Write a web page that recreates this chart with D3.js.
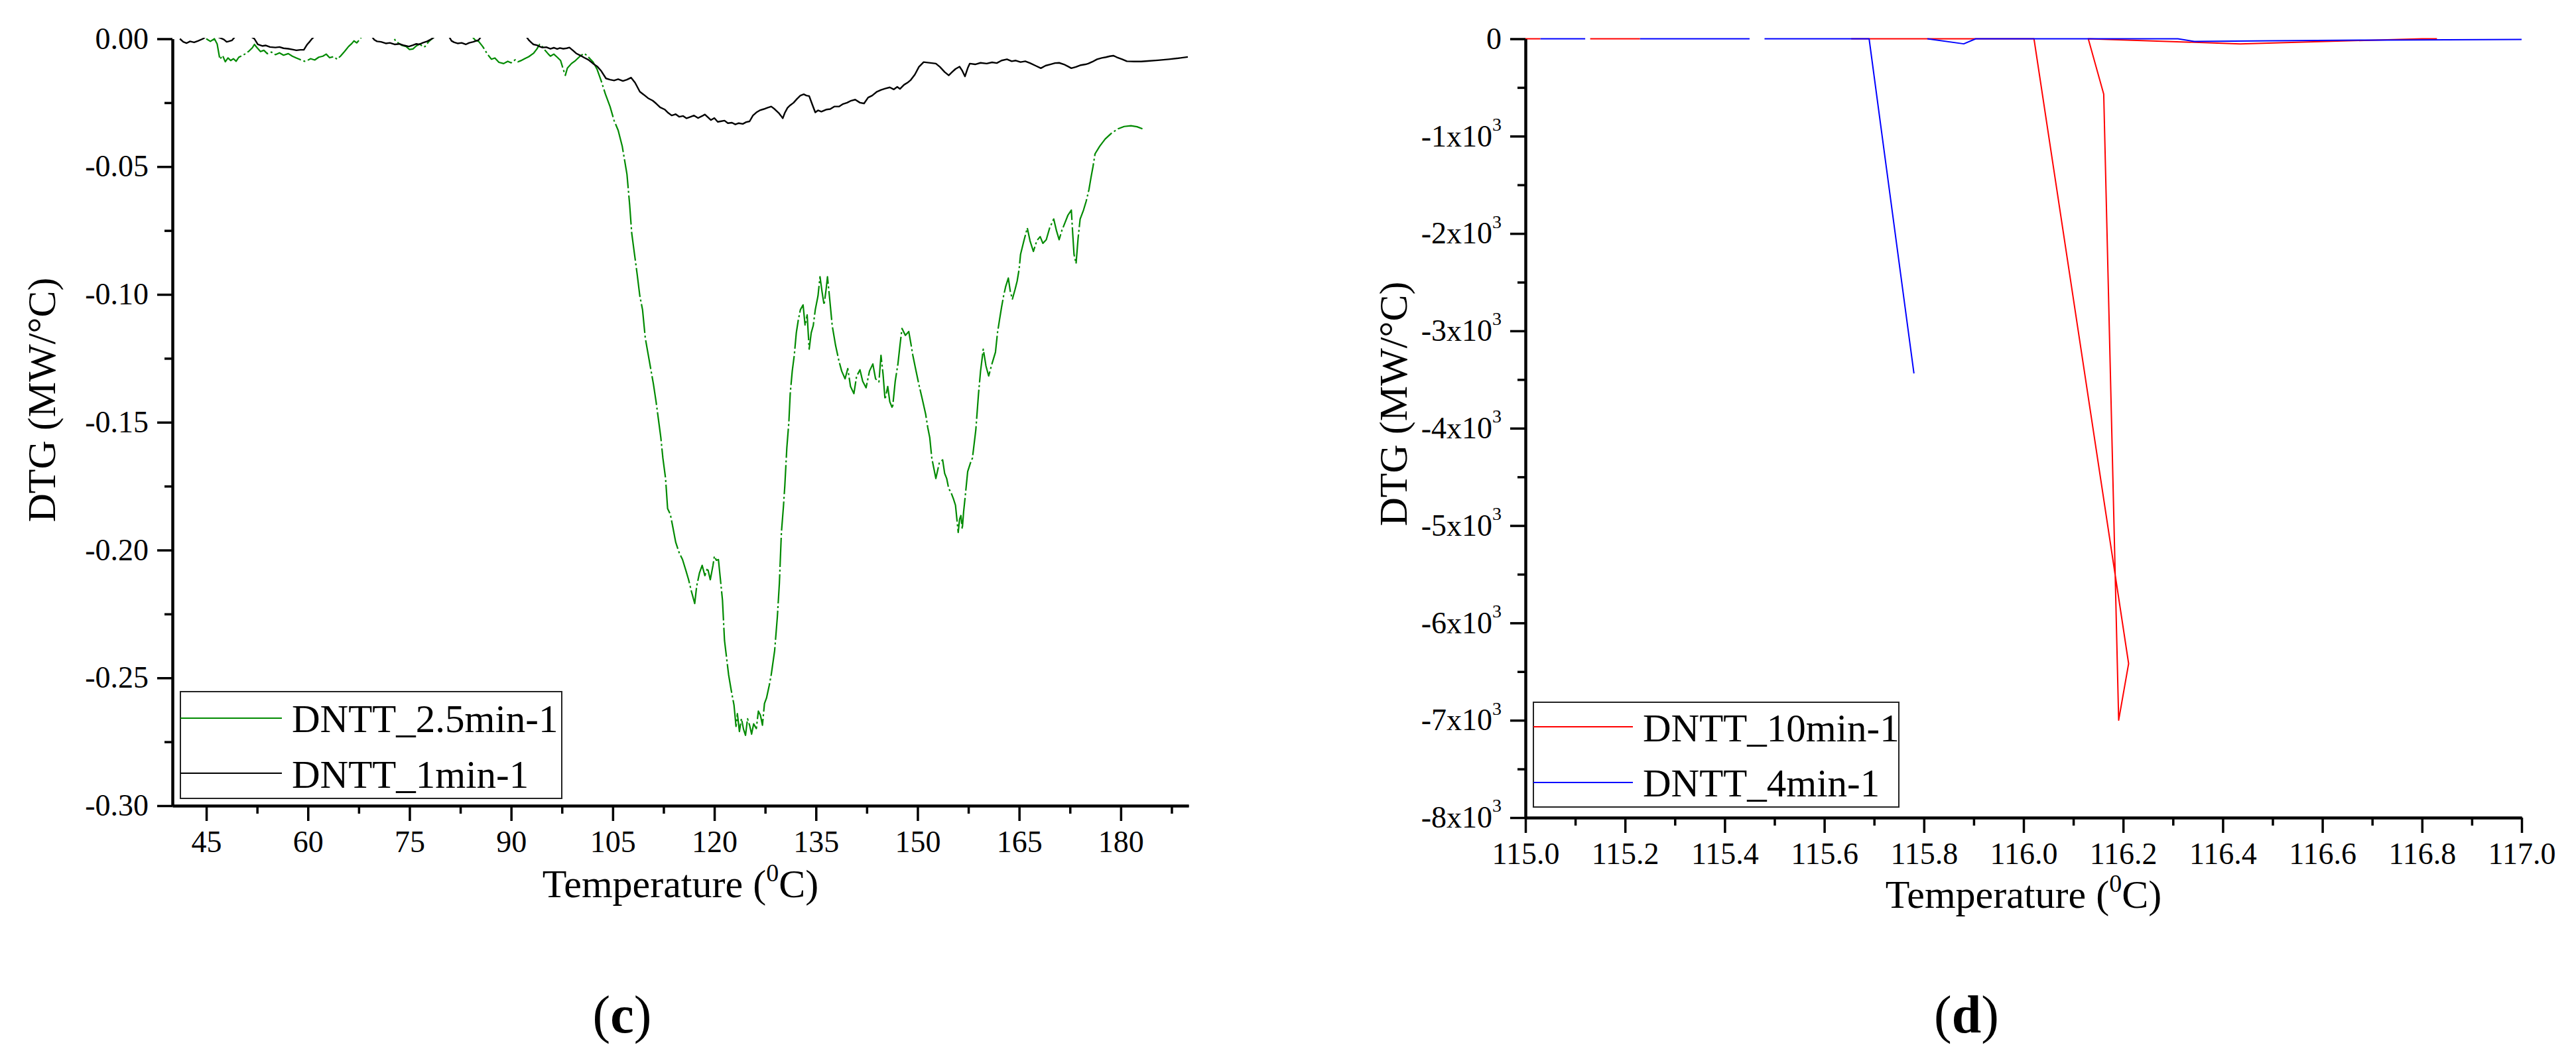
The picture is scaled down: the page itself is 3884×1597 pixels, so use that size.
<!DOCTYPE html>
<html>
<head>
<meta charset="utf-8">
<script src="https://cdn.jsdelivr.net/npm/d3@7"></script>
<style>
  html,body{margin:0;padding:0;background:#fff;}
  svg{display:block;}
</style>
</head>
<body>
<script>
// ---------------- DATA ----------------
// Panel (c): Temperature (°C) vs DTG
const cXTicks = [45, 60, 75, 90, 105, 120, 135, 150, 165, 180];
const cXMinor = [52.5, 67.5, 82.5, 97.5, 112.5, 127.5, 142.5, 157.5, 172.5, 187.5];
const cYTicks = [0, -0.05, -0.10, -0.15, -0.20, -0.25, -0.30];
const cYMinor = [-0.025, -0.075, -0.125, -0.175, -0.225, -0.275];
const cSeriesNames = ["DNTT_2.5min-1", "DNTT_1min-1"];

// DNTT_2.5min-1 (green) [T, DTG]
const dntt25 = [
[45.0,0],[45.6,-0.001],[46.2,0],[46.6,-0.002],[47.0,-0.008],[47.4,-0.0065],[47.8,-0.009],[48.2,-0.0075],[48.6,-0.0085],[49.0,-0.0078],
[49.4,-0.0088],[49.8,-0.0072],[50.3,-0.0066],[50.8,-0.0058],[51.3,-0.0048],[51.8,-0.0035],[52.1,-0.0022],[52.5,-0.0035],[53.0,-0.005],[53.5,-0.0045],
[54.0,-0.0058],[54.6,-0.0052],[55.2,-0.0062],[55.8,-0.0055],[56.4,-0.0064],[57.1,-0.0058],[57.7,-0.0068],[58.3,-0.0075],[58.9,-0.0082],[59.5,-0.0088],
[59.9,-0.0085],[60.4,-0.0078],[61.0,-0.0083],[61.6,-0.0072],[62.2,-0.0068],[62.7,-0.006],[63.2,-0.0074],[63.8,-0.007],[64.3,-0.008],[64.8,-0.0068],
[65.4,-0.005],[66.0,-0.003],[66.5,-0.0018],[66.8,-0.0008],[67.2,-0.0016],[67.6,-0.0004],[68.0,0.001],[72.5,0.001],[73.0,-0.001],[73.8,-0.0025],
[74.5,-0.003],[75.0,-0.0042],[75.5,-0.004],[76.0,-0.0028],[76.5,-0.002],[77.0,-0.0032],[77.3,-0.003],[77.8,-0.0012],[78.3,0],[78.8,0.001],
[84.2,0.001],[84.7,-0.0005],[85.2,-0.001],[85.8,-0.003],[86.5,-0.006],[87.1,-0.008],[87.6,-0.0075],[88.2,-0.0092],[88.9,-0.0097],[89.5,-0.0088],
[90.0,-0.0094],[90.6,-0.0082],[91.0,-0.009],[91.4,-0.0086],[92.0,-0.0078],[92.6,-0.007],[93.3,-0.0057],[93.8,-0.004],[94.2,-0.0022],[94.6,-0.003],
[95.0,-0.0045],[95.5,-0.006],[95.8,-0.0068],[96.3,-0.006],[96.8,-0.0072],[97.3,-0.0085],[97.7,-0.012],[98.0,-0.0143],[98.3,-0.0115],[98.9,-0.0097],
[99.5,-0.0085],[100.1,-0.007],[100.5,-0.0062],[100.8,-0.0057],[101.3,-0.0068],[101.7,-0.008],[102.1,-0.0091],[102.7,-0.012],[103.3,-0.0165],[103.9,-0.0215],
[104.6,-0.0265],[105.2,-0.032],[105.8,-0.0358],[106.4,-0.042],[107.1,-0.053],[107.5,-0.065],[107.8,-0.076],[108.2,-0.084],[108.6,-0.092],[109.0,-0.1006],
[109.4,-0.106],[109.8,-0.117],[110.2,-0.123],[110.6,-0.129],[111.0,-0.135],[111.4,-0.142],[111.8,-0.15],[112.1,-0.156],[112.4,-0.164],[112.8,-0.172],
[113.1,-0.1838],[113.5,-0.186],[113.8,-0.19],[114.3,-0.197],[114.8,-0.201],[115.3,-0.2037],[115.8,-0.208],[116.2,-0.2116],[116.6,-0.216],[117.1,-0.2209],
[117.4,-0.214],[117.8,-0.209],[118.2,-0.206],[118.6,-0.21],[119.0,-0.207],[119.4,-0.2116],[119.8,-0.206],[120.0,-0.2024],[120.3,-0.204],[120.6,-0.2037],
[120.9,-0.2116],[121.2,-0.2196],[121.5,-0.2354],[121.8,-0.242],[122.1,-0.2487],[122.5,-0.255],[122.9,-0.2606],[123.2,-0.269],[123.4,-0.264],[123.7,-0.271],
[124.0,-0.2659],[124.3,-0.27],[124.6,-0.2725],[124.9,-0.266],[125.2,-0.2685],[125.5,-0.272],[125.8,-0.268],[126.2,-0.2698],[126.5,-0.263],[126.8,-0.2646],
[127.1,-0.2685],[127.4,-0.26],[127.7,-0.2579],[128.1,-0.253],[128.4,-0.2487],[128.9,-0.2394],[129.3,-0.2262],[129.6,-0.213],[129.9,-0.1931],[130.2,-0.183],
[130.4,-0.175],[130.7,-0.16],[131.0,-0.15],[131.2,-0.1388],[131.5,-0.13],[131.8,-0.1238],[132.1,-0.115],[132.4,-0.1099],[132.7,-0.106],[133.1,-0.1041],
[133.4,-0.1122],[133.7,-0.108],[134.0,-0.1214],[134.3,-0.115],[134.6,-0.1122],[134.9,-0.106],[135.3,-0.1006],[135.6,-0.0931],[135.9,-0.099],[136.2,-0.1041],
[136.5,-0.098],[136.7,-0.0931],[137.0,-0.101],[137.4,-0.1122],[137.9,-0.12],[138.4,-0.1261],[138.8,-0.13],[139.3,-0.133],[139.7,-0.129],[140.1,-0.136],
[140.6,-0.1388],[141.0,-0.132],[141.5,-0.1295],[141.9,-0.134],[142.4,-0.1365],[142.9,-0.13],[143.4,-0.1272],[143.8,-0.133],[144.3,-0.1342],[144.6,-0.1238],
[144.9,-0.131],[145.2,-0.1411],[145.6,-0.136],[145.9,-0.142],[146.3,-0.1446],[146.7,-0.134],[147.1,-0.1272],[147.4,-0.12],[147.7,-0.1133],[148.2,-0.116],
[148.7,-0.1145],[149.0,-0.119],[149.3,-0.1238],[149.7,-0.129],[150.2,-0.1353],[150.7,-0.141],[151.2,-0.1469],[151.5,-0.152],[151.8,-0.156],[152.1,-0.164],
[152.4,-0.168],[152.7,-0.172],[153.2,-0.166],[153.7,-0.1647],[154.0,-0.17],[154.3,-0.172],[154.6,-0.176],[154.9,-0.1772],[155.3,-0.18],[155.6,-0.1825],
[156.0,-0.1931],[156.2,-0.188],[156.4,-0.1865],[156.6,-0.1918],[156.8,-0.185],[157.0,-0.1799],[157.4,-0.1693],[157.8,-0.166],[158.1,-0.164],[158.6,-0.153],
[159.0,-0.1388],[159.3,-0.13],[159.7,-0.1214],[160.1,-0.128],[160.5,-0.1319],[161.0,-0.127],[161.5,-0.1226],[161.8,-0.115],[162.1,-0.1099],[162.4,-0.105],
[162.7,-0.1006],[163.0,-0.097],[163.4,-0.0936],[163.7,-0.099],[164.0,-0.1018],[164.4,-0.098],[164.7,-0.0948],[165.0,-0.09],[165.2,-0.0844],[165.7,-0.079],
[166.2,-0.074],[166.6,-0.079],[167.1,-0.0832],[167.6,-0.079],[168.1,-0.0774],[168.5,-0.08],[169.0,-0.0786],[169.5,-0.074],[170.1,-0.0705],[170.5,-0.075],
[170.9,-0.0786],[171.3,-0.075],[171.8,-0.0717],[172.2,-0.069],[172.7,-0.067],[172.9,-0.076],[173.1,-0.0844],[173.4,-0.0879],[173.7,-0.078],[174.0,-0.0705],
[174.5,-0.067],[174.9,-0.0635],[175.3,-0.059],[175.6,-0.0543],[175.9,-0.05],[176.2,-0.045],[176.9,-0.042],[177.7,-0.0392],[178.6,-0.037],[179.6,-0.0352],
[180.5,-0.0343],[181.5,-0.034],[182.4,-0.0344],[183.2,-0.0352]
];

// DNTT_1min-1 (black) [T, DTG]
const dntt1 = [
[41.1,0],[41.6,-0.0012],[42.1,-0.0017],[42.6,-0.001],[43.2,-0.0014],[43.8,-0.0008],[44.5,0],[45.0,0.001],[46.5,0.001],[47.6,-0.0003],
[48.0,-0.0012],[48.3,-0.001],[48.8,-0.0006],[49.3,0.001],[51.5,0.001],[52.1,0],[52.6,-0.0022],[53.3,-0.0028],[53.8,-0.0026],[54.4,-0.0032],
[55.2,-0.0034],[55.8,-0.0032],[56.4,-0.0037],[57.1,-0.0039],[57.7,-0.0042],[58.3,-0.0045],[58.9,-0.0043],[59.4,-0.0043],[59.7,-0.003],[59.9,-0.0022],
[60.3,-0.001],[60.6,0],[61.0,0.001],[69.4,0.001],[69.8,-0.0004],[70.2,-0.001],[70.8,-0.0012],[71.5,-0.0018],[72.1,-0.0016],[72.8,-0.0022],
[73.5,-0.002],[74.2,-0.0026],[74.9,-0.003],[75.5,-0.0025],[76.0,-0.002],[76.4,-0.0022],[77.0,-0.0015],[77.6,-0.001],[78.3,0],[78.8,0.001],
[80.8,0.001],[81.2,-0.0008],[81.6,-0.0014],[82.1,-0.0018],[82.7,-0.0016],[83.3,-0.0022],[83.8,-0.0016],[84.4,-0.0012],[85.2,-0.0005],[85.6,0.001],
[92.2,0.001],[92.6,-0.0005],[93.0,-0.0015],[93.3,-0.0022],[93.8,-0.0025],[94.2,-0.003],[94.6,-0.0034],[95.2,-0.0033],[95.8,-0.0039],[96.3,-0.0035],
[96.8,-0.004],[97.2,-0.0036],[97.7,-0.0039],[98.2,-0.0037],[98.6,-0.0034],[99.1,-0.0045],[99.6,-0.0057],[100.2,-0.0065],[100.8,-0.0074],[101.4,-0.0082],
[102.1,-0.0097],[102.7,-0.0108],[103.3,-0.0126],[104.0,-0.0155],[104.6,-0.016],[105.2,-0.0163],[105.8,-0.0158],[106.5,-0.0165],[107.1,-0.016],[107.7,-0.0152],
[108.3,-0.0172],[109.0,-0.0207],[109.6,-0.0219],[110.2,-0.0232],[110.9,-0.0242],[111.4,-0.0253],[112.0,-0.0268],[112.7,-0.0277],[113.2,-0.029],[113.7,-0.03],
[114.3,-0.0295],[114.8,-0.0305],[115.4,-0.0302],[115.9,-0.0311],[116.5,-0.0305],[117.0,-0.03],[117.6,-0.031],[118.2,-0.0302],[118.6,-0.0296],[119.0,-0.0306],
[119.5,-0.0318],[120.0,-0.031],[120.5,-0.0325],[120.9,-0.0323],[121.5,-0.032],[122.0,-0.033],[122.6,-0.0328],[123.1,-0.0335],[123.6,-0.033],[124.2,-0.0333],
[124.7,-0.0326],[125.2,-0.0323],[125.7,-0.03],[126.2,-0.0288],[126.7,-0.028],[127.3,-0.0275],[127.8,-0.027],[128.4,-0.0265],[128.9,-0.0275],[129.5,-0.029],
[129.8,-0.03],[130.1,-0.0311],[130.4,-0.029],[130.8,-0.027],[131.2,-0.026],[131.7,-0.025],[132.2,-0.0235],[132.7,-0.0222],[133.2,-0.0217],[133.6,-0.0222],
[134.0,-0.0224],[134.5,-0.026],[134.9,-0.0288],[135.3,-0.028],[135.8,-0.0285],[136.5,-0.0277],[137.1,-0.0275],[137.7,-0.0265],[138.4,-0.0265],[139.0,-0.0255],
[139.6,-0.025],[140.2,-0.0242],[140.8,-0.0238],[141.5,-0.025],[142.1,-0.0253],[142.7,-0.023],[143.3,-0.0222],[144.0,-0.0207],[144.6,-0.02],[145.2,-0.0195],
[145.9,-0.019],[146.5,-0.0198],[147.0,-0.0188],[147.4,-0.0196],[148.0,-0.018],[148.5,-0.0172],[149.0,-0.0161],[149.6,-0.014],[150.2,-0.011],[150.9,-0.0091],
[151.5,-0.0093],[152.1,-0.0095],[152.7,-0.0097],[153.3,-0.011],[154.0,-0.013],[154.6,-0.0143],[155.1,-0.013],[155.6,-0.0118],[156.2,-0.0109],[156.6,-0.0125],
[157.0,-0.0147],[157.4,-0.0115],[157.7,-0.0097],[158.5,-0.01],[159.3,-0.0094],[160.2,-0.0097],[161.0,-0.0092],[161.7,-0.0095],[162.4,-0.0085],[163.2,-0.008],
[163.9,-0.0088],[164.5,-0.0085],[165.2,-0.0091],[165.9,-0.0088],[166.6,-0.0095],[167.4,-0.0105],[168.2,-0.0115],[168.9,-0.0105],[169.6,-0.01],[170.3,-0.0095],
[170.9,-0.0094],[171.6,-0.01],[172.2,-0.0108],[172.7,-0.0115],[173.4,-0.011],[174.1,-0.0103],[174.8,-0.01],[175.2,-0.0097],[175.8,-0.009],[176.5,-0.008],
[177.2,-0.0075],[177.8,-0.0072],[178.4,-0.0068],[178.9,-0.0066],[179.4,-0.0072],[179.8,-0.0076],[180.2,-0.008],[180.9,-0.0088],[182.0,-0.0089],[183.0,-0.0089],
[184.0,-0.0087],[185.5,-0.0084],[187.1,-0.008],[188.5,-0.0076],[189.9,-0.0071]
];

// Panel (d)
const dXTicks = [115.0, 115.2, 115.4, 115.6, 115.8, 116.0, 116.2, 116.4, 116.6, 116.8, 117.0];
const dXMinor = [115.1, 115.3, 115.5, 115.7, 115.9, 116.1, 116.3, 116.5, 116.7, 116.9];
const dYTicks = [0, -1000, -2000, -3000, -4000, -5000, -6000, -7000, -8000];
const dYMinor = [-500, -1500, -2500, -3500, -4500, -5500, -6500, -7500];
const dSeriesNames = ["DNTT_10min-1", "DNTT_4min-1"];

// DNTT_10min-1 (red) [T, DTG]; null = break in the trace
const dntt10 = [
[115.00,0],[115.03,0],null,[115.13,0],[115.23,0],null,[115.654,0],[116.021,0],
[116.211,-6418],[116.191,-6999],[116.161,-569],[116.13,0],[116.435,-52],[116.80,0],[116.83,0]
];
// DNTT_4min-1 (blue) [T, DTG]
const dntt4 = [
[115.03,0],[115.12,0],null,[115.23,0],[115.45,0],null,[115.48,0],[115.69,0],[115.78,-3438],null,
[115.807,0],[115.88,-52],[115.904,0],[116.31,0],[116.343,-27],[116.5,-21],[116.7,-13],[117.0,-6]
];

// ---------------- DRAWING ----------------
const W = 3884, H = 1597;
const FONT = "'Liberation Serif', 'Times New Roman', serif";
const svg = d3.select("body").append("svg").attr("width", W).attr("height", H)
  .style("background", "#fff");

function styleAxis(g, fontSize) {
  g.attr("font-family", FONT).attr("font-size", fontSize);
  g.select(".domain").attr("stroke", "#000").attr("stroke-width", 4);
  g.selectAll(".tick line").attr("stroke", "#000").attr("stroke-width", 3.5);
  g.selectAll(".tick text").attr("fill", "#000");
}

function drawPanel(o) {
  const x = d3.scaleLinear().domain(o.xDomain).range(o.xRange);
  const y = d3.scaleLinear().domain(o.yDomain).range(o.yRange);
  const g = svg.append("g");

  // clip
  const cid = "clip" + o.id;
  svg.append("defs").append("clipPath").attr("id", cid).append("rect")
    .attr("x", o.xRange[0]).attr("y", o.yRange[1] - 1.5)
    .attr("width", o.xRange[1] - o.xRange[0]).attr("height", o.yRange[0] - o.yRange[1] + 1.5);

  // series
  const line = d3.line().defined(d => d !== null).x(d => x(d[0])).y(d => y(d[1]));
  const lg = g.append("g").attr("clip-path", `url(#${cid})`);
  o.series.forEach(s => {
    lg.append("path").datum(s.data).attr("d", line)
      .attr("fill", "none").attr("stroke", s.color).attr("stroke-width", s.width)
      .attr("stroke-linejoin", "round")
      .attr("stroke-dasharray", s.dash || null);
  });

  // minor ticks
  g.append("g").attr("transform", `translate(0,${o.yRange[0]})`)
    .call(d3.axisBottom(x).tickValues(o.xMinor).tickSize(12).tickSizeOuter(0).tickFormat(""))
    .call(a => styleAxis(a, 46));
  g.append("g").attr("transform", `translate(${o.xRange[0]},0)`)
    .call(d3.axisLeft(y).tickValues(o.yMinor).tickSize(12).tickSizeOuter(0).tickFormat(""))
    .call(a => styleAxis(a, 46));

  // major axes
  const xa = g.append("g").attr("transform", `translate(0,${o.yRange[0]})`)
    .call(d3.axisBottom(x).tickValues(o.xTicks).tickSize(23).tickSizeOuter(0).tickPadding(14).tickFormat(o.xFmt))
    .call(a => styleAxis(a, 46));
  const ya = g.append("g").attr("transform", `translate(${o.xRange[0]},0)`)
    .call(d3.axisLeft(y).tickValues(o.yTicks).tickSize(23).tickSizeOuter(0).tickPadding(13).tickFormat(o.yFmt))
    .call(a => styleAxis(a, 46));
  if (o.ySup) {
    ya.selectAll(".tick text").each(function(d) {
      if (d === 0) return;
      const t = d3.select(this);
      t.text("");
      t.append("tspan").text("-" + (-d / 1000) + "x10");
      t.append("tspan").text("3").attr("font-size", 28).attr("dy", "-0.85em");
    });
  }

  // axis titles
  const xt = g.append("text").attr("x", (o.xRange[0] + o.xRange[1]) / 2).attr("y", o.xTitleY)
    .attr("text-anchor", "middle").attr("font-family", FONT).attr("font-size", 60).attr("fill", "#000");
  xt.append("tspan").text("Temperature (");
  xt.append("tspan").text("0").attr("font-size", 38).attr("dy", -24);
  xt.append("tspan").text("C)").attr("dy", 24);

  g.append("text").attr("transform", `translate(${o.yTitleX},${o.yTitleY}) rotate(-90)`)
    .attr("text-anchor", "middle").attr("font-family", FONT).attr("font-size", 60).attr("fill", "#000")
    .text("DTG (MW/\u00B0C)");

  // legend
  const L = o.legend;
  g.append("rect").attr("x", L.x0).attr("y", L.y0).attr("width", L.x1 - L.x0).attr("height", L.y1 - L.y0)
    .attr("fill", "#fff").attr("stroke", "#222").attr("stroke-width", 2);
  o.series.forEach((s, i) => {
    const ly = L.lineY[i];
    g.append("line").attr("x1", L.x0).attr("x2", L.lineX2).attr("y1", ly).attr("y2", ly)
      .attr("stroke", s.color).attr("stroke-width", 2.2);
    g.append("text").attr("x", L.textX).attr("y", L.textY[i]).attr("font-family", FONT)
      .attr("font-size", 59).attr("fill", "#000").text(s.name);
  });

  // panel label
  const pl = svg.append("text").attr("x", o.labelX).attr("y", 1557).attr("text-anchor", "middle")
    .attr("font-family", FONT).attr("font-size", 80).attr("fill", "#000");
  pl.append("tspan").text("(");
  pl.append("tspan").text(o.label).attr("font-weight", "bold");
  pl.append("tspan").text(")");
}

drawPanel({
  id: "c",
  xDomain: [40, 190], xRange: [260, 1792],
  yDomain: [-0.30, 0], yRange: [1215, 58.5],
  xTicks: cXTicks, xMinor: cXMinor, yTicks: cYTicks, yMinor: cYMinor,
  xFmt: d => String(d), yFmt: d => (Math.abs(d) < 1e-9 ? "0.00" : d.toFixed(2)),
  series: [
    { name: cSeriesNames[0], data: dntt25, color: "#008a00", width: 2.2, dash: "44,4,3,4" },
    { name: cSeriesNames[1], data: dntt1, color: "#000", width: 2.4 }
  ],
  xTitleY: 1353, yTitleX: 83, yTitleY: 603,
  legend: { x0: 272, x1: 847, y0: 1043, y1: 1204, lineX2: 425, lineY: [1083, 1166], textX: 440, textY: [1104, 1188] },
  labelX: 938, label: "c"
});

drawPanel({
  id: "d",
  xDomain: [115, 117], xRange: [2300, 3802],
  yDomain: [-8000, 0], yRange: [1233, 58.5],
  xTicks: dXTicks, xMinor: dXMinor, yTicks: dYTicks, yMinor: dYMinor,
  xFmt: d => d.toFixed(1), yFmt: d => (d === 0 ? "0" : String(d)), ySup: true,
  series: [
    { name: dSeriesNames[0], data: dntt10, color: "#ff0000", width: 2 },
    { name: dSeriesNames[1], data: dntt4, color: "#0000ff", width: 2 }
  ],
  xTitleY: 1369, yTitleX: 2121, yTitleY: 609,
  legend: { x0: 2312, x1: 2863, y0: 1059, y1: 1217, lineX2: 2462, lineY: [1096, 1180], textX: 2477, textY: [1118, 1201] },
  labelX: 2965, label: "d"
});
</script>
</body>
</html>
